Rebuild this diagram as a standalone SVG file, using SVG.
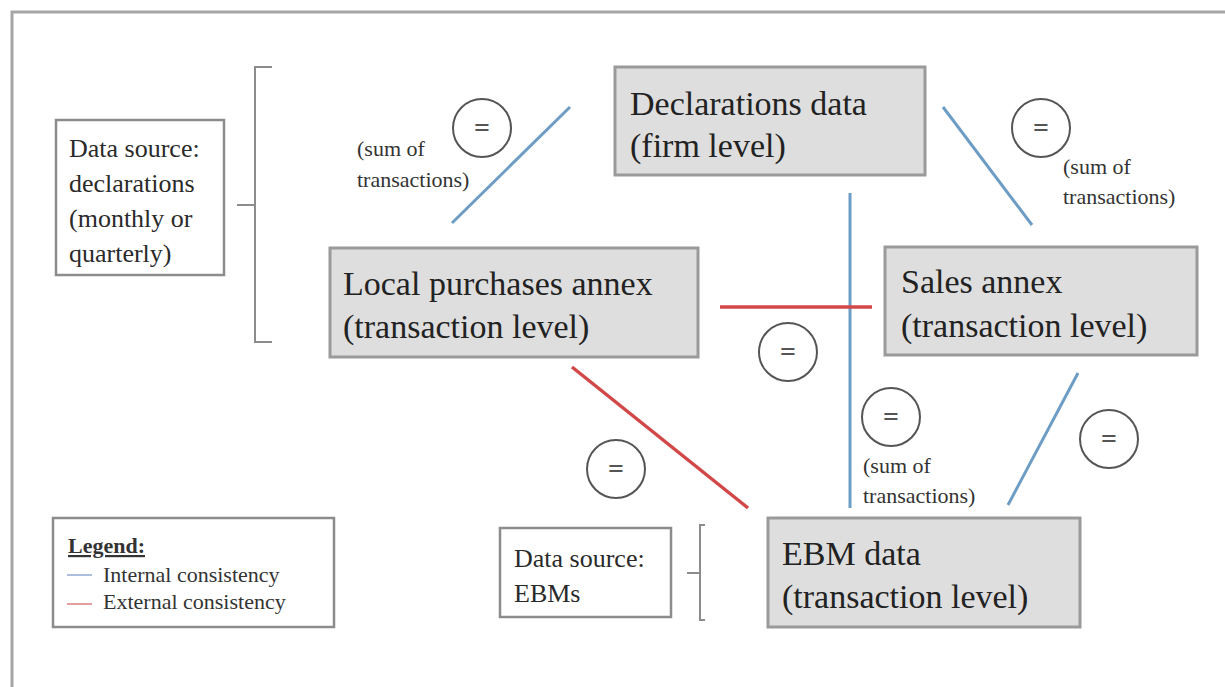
<svg xmlns="http://www.w3.org/2000/svg" width="1225" height="687" viewBox="0 0 1225 687">
<style>
.frame{fill:none;stroke:#a6a6a6;stroke-width:3}
.node{fill:#dedede;stroke:#9a9a9a;stroke-width:3}
.src{fill:#ffffff;stroke:#8c8c8c;stroke-width:2.5}
.big{font-family:"Liberation Serif",serif;font-size:34px;fill:#222}
.mid{font-family:"Liberation Serif",serif;font-size:26px;fill:#2a2a2a}
.sm{font-family:"Liberation Serif",serif;font-size:22px;fill:#333}
.leg{font-family:"Liberation Serif",serif;font-size:22px;fill:#333}
.brk{fill:none;stroke:#8c8c8c;stroke-width:2}
.int{stroke:#6d9cc4;stroke-width:3;fill:none}
.ext{stroke:#d24747;stroke-width:3.5;fill:none}
.eqc{fill:#ffffff;stroke:#555;stroke-width:2}
.eq{font-family:"Liberation Serif",serif;font-size:28px;font-weight:bold;fill:#555;text-anchor:middle}
</style>
<rect class="frame" x="12" y="12" width="1300" height="800"/>

<g id="connectors">
  <line class="int" x1="570" y1="107" x2="452" y2="223"/>
  <line class="int" x1="943" y1="107" x2="1032" y2="225"/>
  <line class="int" x1="850" y1="193" x2="850" y2="508"/>
  <line class="int" x1="1078" y1="373" x2="1008" y2="505"/>
  <line class="ext" x1="720" y1="307" x2="872" y2="307"/>
  <line class="ext" x1="572" y1="367" x2="748" y2="508"/>
</g>

<g id="eq-labels">
  <circle class="eqc" cx="482" cy="128" r="29"/><text class="eq" x="482" y="137">=</text>
  <circle class="eqc" cx="1041" cy="128" r="29"/><text class="eq" x="1041" y="137">=</text>
  <circle class="eqc" cx="788" cy="352" r="29"/><text class="eq" x="788" y="361">=</text>
  <circle class="eqc" cx="891" cy="417" r="29"/><text class="eq" x="891" y="426">=</text>
  <circle class="eqc" cx="1109" cy="439" r="29"/><text class="eq" x="1109" y="448">=</text>
  <circle class="eqc" cx="616" cy="469" r="29"/><text class="eq" x="616" y="478">=</text>
  <text class="sm" x="357" y="156">(sum of</text>
  <text class="sm" x="357" y="187">transactions)</text>
  <text class="sm" x="1063" y="174">(sum of</text>
  <text class="sm" x="1063" y="204">transactions)</text>
  <text class="sm" x="863" y="473">(sum of</text>
  <text class="sm" x="863" y="503">transactions)</text>
</g>

<g id="src-declarations">
  <rect class="src" x="56" y="120" width="168" height="155"/>
  <text class="mid" x="69" y="157">Data source:</text>
  <text class="mid" x="69" y="192">declarations</text>
  <text class="mid" x="69" y="227">(monthly or</text>
  <text class="mid" x="69" y="262">quarterly)</text>
  <path class="brk" d="M272,67 H255 V342 H272 M237,205 H255"/>
</g>

<g id="declarations-data">
  <rect class="node" x="615" y="67" width="310" height="108"/>
  <text class="big" x="630" y="115">Declarations data</text>
  <text class="big" x="630" y="157">(firm level)</text>
</g>

<g id="local-purchases">
  <rect class="node" x="330" y="248" width="368" height="109"/>
  <text class="big" x="343" y="295">Local purchases annex</text>
  <text class="big" x="343" y="338">(transaction level)</text>
</g>

<g id="sales-annex">
  <rect class="node" x="885" y="247" width="312" height="108"/>
  <text class="big" x="901" y="293">Sales annex</text>
  <text class="big" x="901" y="337">(transaction level)</text>
</g>

<g id="ebm-data">
  <rect class="node" x="768" y="518" width="312" height="109"/>
  <text class="big" x="782" y="565">EBM data</text>
  <text class="big" x="782" y="608">(transaction level)</text>
</g>

<g id="src-ebms">
  <rect class="src" x="500" y="528" width="171" height="89"/>
  <text class="mid" x="514" y="567">Data source:</text>
  <text class="mid" x="514" y="602">EBMs</text>
  <path class="brk" d="M705,525 H700 V620 H705 M687,573 H700"/>
</g>

<g id="legend">
  <rect class="src" x="53" y="518" width="281" height="109"/>
  <text class="leg" x="68" y="553" font-weight="bold" text-decoration="underline">Legend:</text>
  <line x1="67" y1="575" x2="92" y2="575" stroke="#8fa8d0" stroke-width="1.5"/>
  <text class="leg" x="103" y="582">Internal consistency</text>
  <line x1="67" y1="604" x2="92" y2="604" stroke="#d88080" stroke-width="1.5"/>
  <text class="leg" x="103" y="609">External consistency</text>
</g>
</svg>
